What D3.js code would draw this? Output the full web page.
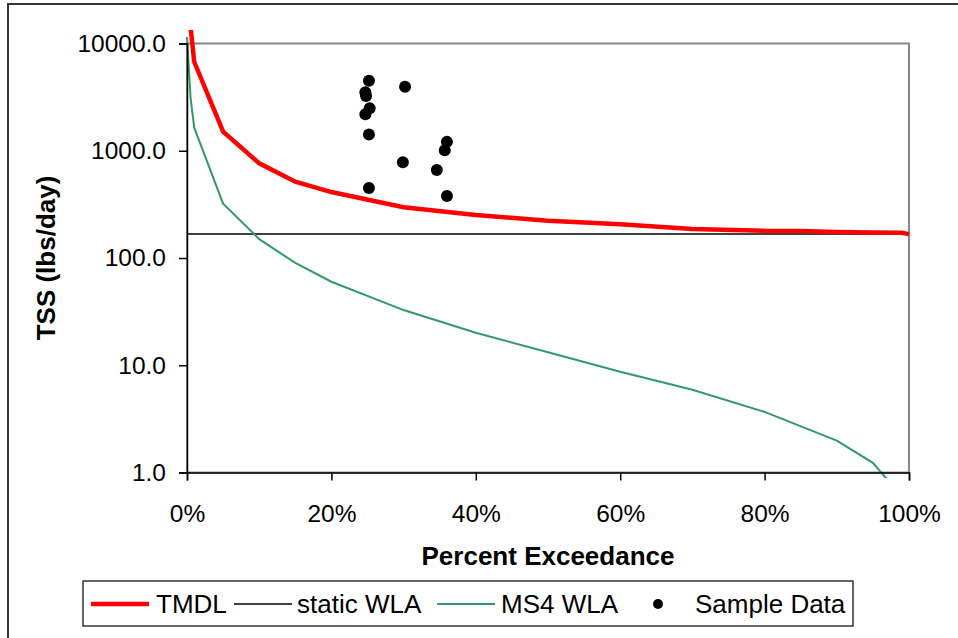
<!DOCTYPE html>
<html>
<head>
<meta charset="utf-8">
<script src="https://cdn.jsdelivr.net/npm/d3@7"></script>
<style>
    body { margin: 0; background: #fff; }
    svg { display: block; font-family: Arial, "Liberation Sans", sans-serif; }
</style>
</head>
<body>
<svg id="chart"></svg>
<script>
const width = 958;
const height = 638;

// TMDL curve (percent exceedance, lbs/day)
const tmdlPct = [0.5, 1, 5, 10, 15, 20, 30, 40, 50, 60, 70, 80, 85, 90, 95, 99, 100];
const tmdlLoad = [14000, 6760, 1506, 764, 514, 412, 297, 252, 223, 206, 186, 179, 179, 175, 173, 172, 167];

// static WLA
const staticWLA = 167;

// MS4 WLA curve
const ms4Pct = [0, 0.5, 1, 5, 10, 15, 20, 30, 40, 50, 60, 70, 80, 90, 95, 100];
const ms4Load = [11500, 3100, 1640, 321, 150, 90, 60.1, 32.7, 20.1, 13.2, 8.7, 5.9, 3.67, 1.98, 1.23, 0.5];

// sample data
const samplePct = [25.2, 30.2, 24.7, 24.8, 25.3, 24.7, 25.2, 36.0, 35.7, 29.9, 34.6, 25.2, 36.0];
const sampleLoad = [4500, 3960, 3510, 3240, 2490, 2190, 1420, 1210, 1010, 780, 662, 450, 378];

const xTicks = [0, 20, 40, 60, 80, 100];
const yTicks = [1, 10, 100, 1000, 10000];

const legendItems = [
    { name: "TMDL", type: "line", color: "#ff0000", w: 4.5 },
    { name: "static WLA", type: "line", color: "#000000", w: 1.5 },
    { name: "MS4 WLA", type: "line", color: "#339966", w: 2 },
    { name: "Sample Data", type: "dot", color: "#000000" }
];

const plot = { left: 187, right: 909, top: 43.5, bottom: 472.5 };

const svg = d3.select("#chart").attr("width", width).attr("height", height);

// Chart frame
svg.append("rect")
    .attr("x", 8)
    .attr("y", 4)
    .attr("width", width + 20)
    .attr("height", height + 20)
    .attr("fill", "#fff")
    .attr("stroke", "#333")
    .attr("stroke-width", 2);

const x = d3.scaleLinear().domain([0, 100]).range([plot.left, plot.right]);
const y = d3.scaleLog().domain([1, 10000]).range([plot.bottom, plot.top]);

// Plot area border (gray)
svg.append("rect")
    .attr("x", plot.left)
    .attr("y", plot.top)
    .attr("width", plot.right - plot.left)
    .attr("height", plot.bottom - plot.top)
    .attr("fill", "none")
    .attr("stroke", "#888")
    .attr("stroke-width", 2);

svg.append("clipPath")
    .attr("id", "clip")
    .append("rect")
    .attr("x", plot.left - 2)
    .attr("y", 30)
    .attr("width", plot.right - plot.left + 6)
    .attr("height", 478 - 30);

const g = svg.append("g").attr("clip-path", "url(#clip)");

// static WLA line
g.append("line")
    .attr("x1", x(0))
    .attr("x2", x(100))
    .attr("y1", y(staticWLA))
    .attr("y2", y(staticWLA))
    .attr("stroke", "#000")
    .attr("stroke-width", 1.5);

const line = d3.line()
    .x(d => x(d[0]))
    .y(d => y(d[1]));

g.append("path")
    .datum(ms4Pct.map((p, i) => [p, ms4Load[i]]))
    .attr("d", line)
    .attr("fill", "none")
    .attr("stroke", "#339966")
    .attr("stroke-width", 2);

g.append("path")
    .datum(tmdlPct.map((p, i) => [p, tmdlLoad[i]]))
    .attr("d", line)
    .attr("fill", "none")
    .attr("stroke", "#ff0000")
    .attr("stroke-width", 4.5);

svg.append("g")
    .selectAll("circle")
    .data(samplePct.map((p, i) => [p, sampleLoad[i]]))
    .join("circle")
    .attr("cx", d => x(d[0]))
    .attr("cy", d => y(d[1]))
    .attr("r", 6)
    .attr("fill", "#000");

// Axes
const xAxis = svg.append("g")
    .attr("transform", `translate(0,${plot.bottom})`)
    .call(d3.axisBottom(x).tickValues(xTicks).tickSize(8).tickPadding(24).tickFormat(d => d + "%"));

const yAxis = svg.append("g")
    .attr("transform", `translate(${plot.left},0)`)
    .call(d3.axisLeft(y).tickValues(yTicks).tickSize(8).tickPadding(13).tickFormat(d3.format(".1f")));

[xAxis, yAxis].forEach(a => {
    a.select(".domain").attr("stroke", "#000").attr("stroke-width", 1.5);
    a.selectAll(".tick line").attr("stroke", "#000").attr("stroke-width", 1.5);
    a.selectAll("text")
        .attr("fill", "#000")
        .style("font-size", "24.5px")
        .style("font-family", "Arial, 'Liberation Sans', sans-serif");
});
xAxis.selectAll("text").attr("dy", "0.71em");

// Axis titles
svg.append("text")
    .attr("x", (plot.left + plot.right) / 2)
    .attr("y", 565)
    .attr("text-anchor", "middle")
    .style("font-size", "26px")
    .style("font-weight", "bold")
    .text("Percent Exceedance");

svg.append("text")
    .attr("transform", `translate(55,${(plot.top + plot.bottom) / 2}) rotate(-90)`)
    .attr("text-anchor", "middle")
    .style("font-size", "26px")
    .style("font-weight", "bold")
    .text("TSS (lbs/day)");

// Legend
const legend = svg.append("g");
legend.append("rect")
    .attr("x", 83)
    .attr("y", 581)
    .attr("width", 770)
    .attr("height", 45)
    .attr("fill", "#fff")
    .attr("stroke", "#000")
    .attr("stroke-width", 1.2);

const legendX = [91, 234, 437, 650];
const legendTextX = [156, 297, 501, 695];
const ly = 604;

legendItems.forEach((item, i) => {
    if (item.type === "line") {
        legend.append("line")
            .attr("x1", legendX[i])
            .attr("x2", legendX[i] + 58)
            .attr("y1", ly)
            .attr("y2", ly)
            .attr("stroke", item.color)
            .attr("stroke-width", item.w);
    } else {
        legend.append("circle")
            .attr("cx", legendX[i] + 8)
            .attr("cy", ly)
            .attr("r", 5)
            .attr("fill", item.color);
    }
    legend.append("text")
        .attr("x", legendTextX[i])
        .attr("y", ly)
        .attr("dy", "0.36em")
        .style("font-size", "26px")
        .text(item.name);
});
</script>
</body>
</html>
